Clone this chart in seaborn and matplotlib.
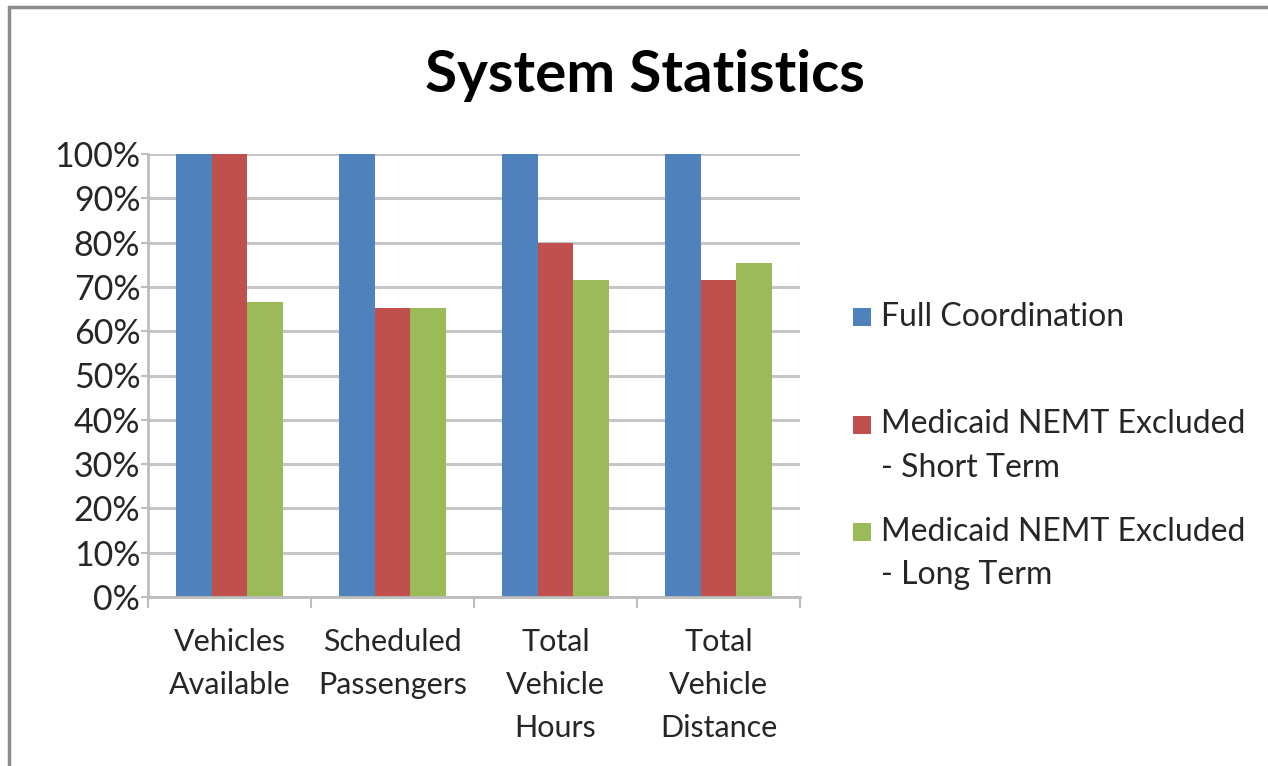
import pandas as pd
import matplotlib.pyplot as plt
import seaborn as sns
from matplotlib.patches import Rectangle
from matplotlib.lines import Line2D
from matplotlib.legend_handler import HandlerPatch
from matplotlib.ticker import PercentFormatter, FixedLocator

# 데이터
categories = ["Vehicles\nAvailable", "Scheduled\nPassengers", "Total\nVehicle\nHours", "Total\nVehicle\nDistance"]
series = ["Full Coordination",
          "Medicaid NEMT Excluded\n- Short Term",
          "Medicaid NEMT Excluded\n- Long Term"]
full_coord = [100, 100, 100, 100]
short_term = [100, 65.2, 79.8, 71.6]
long_term = [66.7, 65.2, 71.6, 75.3]
colors = ["#4F81BD", "#C0504D", "#9BBB59"]

df = pd.DataFrame({
    "category": categories * 3,
    "scenario": [series[0]] * 4 + [series[1]] * 4 + [series[2]] * 4,
    "value": full_coord + short_term + long_term,
})

sns.set_theme(style="white")
plt.rcParams["font.family"] = ["Lato", "DejaVu Sans"]
TXT = "#262626"
FS_X = 22
FS_Y = 24.5
FS_LEG = 23

fig = plt.figure(figsize=(12.68, 7.66), dpi=100)
ax = fig.add_axes([148 / 1268, 1 - 597 / 766, 652 / 1268, 443 / 766])

sns.barplot(data=df, x="category", y="value", hue="scenario", palette=colors,
            width=0.66, gap=0, saturation=1, ax=ax, edgecolor="none", linewidth=0)

ax.set_ylim(0, 100)
ax.set_xlim(-0.5, 3.5)
ax.set_yticks(range(0, 101, 10))
ax.yaxis.set_major_formatter(PercentFormatter(decimals=0))
ax.yaxis.grid(True, color="#c6c6c6", linewidth=2.2)
ax.set_axisbelow(True)
ax.set_xlabel("")
ax.set_ylabel("")

for s in ["top", "right"]:
    ax.spines[s].set_visible(False)
for s in ["left", "bottom"]:
    ax.spines[s].set_color("#bdbdbd")
    ax.spines[s].set_linewidth(2)

ax.tick_params(axis="y", left=True, length=5, width=1.5, color="#bdbdbd",
               labelsize=FS_Y, labelcolor=TXT, pad=0.5)
ax.tick_params(axis="x", bottom=False, length=0, labelsize=FS_X, labelcolor=TXT, pad=22)
ax.set_xticks(range(4))
ax.set_xticklabels(categories, linespacing=1.66)
ax.xaxis.set_minor_locator(FixedLocator([-0.5, 0.5, 1.5, 2.5, 3.5]))
ax.tick_params(axis="x", which="minor", bottom=True, length=8, width=1.5,
               color="#bdbdbd", direction="out")

ax.get_legend().remove()


# 범례: 사각형을 첫 줄에 맞춤
def square_first_line(legend, orig_handle, xdescent, ydescent, width, height, fontsize):
    size = 0.57 * fontsize
    y0 = -ydescent + height / 2 - size / 2 + 0.69 * fontsize
    return Rectangle((-xdescent + width - size, y0), size, size)


handles = [Rectangle((0, 0), 1, 1, facecolor=c, edgecolor="none") for c in colors]
labels = [series[0] + "\n", series[1], series[2]]
leg = fig.legend(handles, labels, loc="center left", bbox_to_anchor=(852 / 1268, 1 - 446 / 766),
                 frameon=False, fontsize=FS_LEG, labelcolor=TXT, handlelength=0.6,
                 handletextpad=0.3, labelspacing=1.05, borderpad=0, borderaxespad=0,
                 handler_map={Rectangle: HandlerPatch(patch_func=square_first_line)})
for t in leg.get_texts():
    t.set_linespacing(1.58)

fig.suptitle("System Statistics", x=645 / 1268, y=1 - 75 / 766, va="center",
             fontsize=42, fontweight="bold", color="black")

# 바깥 테두리 (위, 왼쪽)
fig.add_artist(Line2D([9 / 1268, 1.05], [1 - 7 / 766, 1 - 7 / 766], transform=fig.transFigure,
                      color="#8c8c8c", linewidth=2.5))
fig.add_artist(Line2D([9 / 1268, 9 / 1268], [-0.05, 1 - 7 / 766], transform=fig.transFigure,
                      color="#8c8c8c", linewidth=2.5))

fig.savefig("out.png", dpi=100)
plt.close(fig)
